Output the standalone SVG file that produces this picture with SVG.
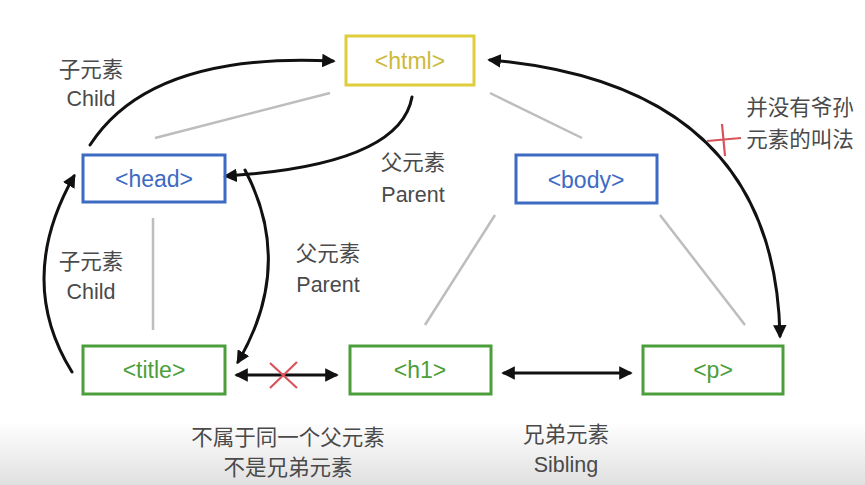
<svg xmlns="http://www.w3.org/2000/svg" width="865" height="485" viewBox="0 0 865 485">
<style>
.box{fill:none;stroke-width:3}
.lbl{font-family:"Liberation Sans","Noto Sans CJK SC",sans-serif;font-size:23px;text-anchor:middle}
.note{font-family:"Liberation Sans","Noto Sans CJK SC",sans-serif;font-size:21.5px;fill:#4a4a4a;text-anchor:middle}
.tree{stroke:#bdbdbd;stroke-width:2.5;fill:none}
.arr{stroke:#111;stroke-width:3;fill:none;stroke-linecap:round}
.x{stroke:#d9535b;stroke-width:2.2;fill:none}
</style>
<defs>
<linearGradient id="bg" x1="0" y1="0" x2="0" y2="1">
<stop offset="0" stop-color="#ffffff"/>
<stop offset="0.87" stop-color="#ffffff"/>
<stop offset="1" stop-color="#e0e0e0"/>
</linearGradient>
<marker id="ah" viewBox="0 0 10 10" refX="8" refY="5" markerWidth="4.5" markerHeight="4.5" orient="auto-start-reverse">
<path d="M0,0 L10,5 L0,10 z" fill="#111"/>
</marker>
</defs>
<rect width="865" height="485" fill="url(#bg)"/>
<g id="tree-lines">
<line class="tree" x1="330" y1="93" x2="155" y2="138"/>
<line class="tree" x1="490" y1="93" x2="582" y2="138"/>
<line class="tree" x1="153" y1="218" x2="153" y2="330"/>
<line class="tree" x1="495" y1="215" x2="425" y2="325"/>
<line class="tree" x1="660" y1="215" x2="745" y2="325"/>
</g>
<g id="connectors">
<path class="arr" d="M90,145 Q150,52 333,61" marker-end="url(#ah)"/>
<path class="arr" d="M412,97 Q400,165 226,176" marker-end="url(#ah)"/>
<path class="arr" d="M245,170 Q295,265 238,362" marker-end="url(#ah)"/>
<path class="arr" d="M72,372 Q15,280 74,176" marker-end="url(#ah)"/>
<path class="arr" d="M237,375 L336,375" marker-start="url(#ah)" marker-end="url(#ah)"/>
<path class="arr" d="M504,373 L630,373" marker-start="url(#ah)" marker-end="url(#ah)"/>
<path class="arr" d="M490,60 Q775,85 780,336" marker-start="url(#ah)" marker-end="url(#ah)"/>
<path class="x" d="M270,363 L297,388 M297,362 L270,388"/>
<path class="x" d="M707,141 L741,138 M722,124 L725,156"/>
</g>
<g id="html"><rect class="box" x="346" y="36" width="128" height="49" stroke="#e0cd3c"/><text class="lbl" x="410" y="69" fill="#cdb93a">&lt;html&gt;</text></g>
<g id="head"><rect class="box" x="83" y="155" width="142" height="47" stroke="#3d6bc4"/><text class="lbl" x="154" y="187" fill="#3d6bc4">&lt;head&gt;</text></g>
<g id="body"><rect class="box" x="516" y="155" width="141" height="48" stroke="#3d6bc4"/><text class="lbl" x="586" y="188" fill="#3d6bc4">&lt;body&gt;</text></g>
<g id="title"><rect class="box" x="83" y="346" width="142" height="48" stroke="#4c9e3c"/><text class="lbl" x="154" y="378" fill="#4c9e3c">&lt;title&gt;</text></g>
<g id="h1"><rect class="box" x="350" y="346" width="141" height="48" stroke="#4c9e3c"/><text class="lbl" x="420" y="378" fill="#4c9e3c">&lt;h1&gt;</text></g>
<g id="p"><rect class="box" x="643" y="346" width="140" height="48" stroke="#4c9e3c"/><text class="lbl" x="713" y="378" fill="#4c9e3c">&lt;p&gt;</text></g>
<g id="labels">
<text class="note" x="91" y="77">子元素</text>
<text class="note" x="91" y="106">Child</text>
<text class="note" x="413" y="170">父元素</text>
<text class="note" x="413" y="202">Parent</text>
<text class="note" x="91" y="269">子元素</text>
<text class="note" x="91" y="299">Child</text>
<text class="note" x="328" y="261">父元素</text>
<text class="note" x="328" y="292">Parent</text>
<text class="note" x="800" y="115">并没有爷孙</text>
<text class="note" x="800" y="147">元素的叫法</text>
<text class="note" x="288" y="445">不属于同一个父元素</text>
<text class="note" x="288" y="475">不是兄弟元素</text>
<text class="note" x="566" y="442">兄弟元素</text>
<text class="note" x="566" y="472">Sibling</text>
</g>
</svg>
